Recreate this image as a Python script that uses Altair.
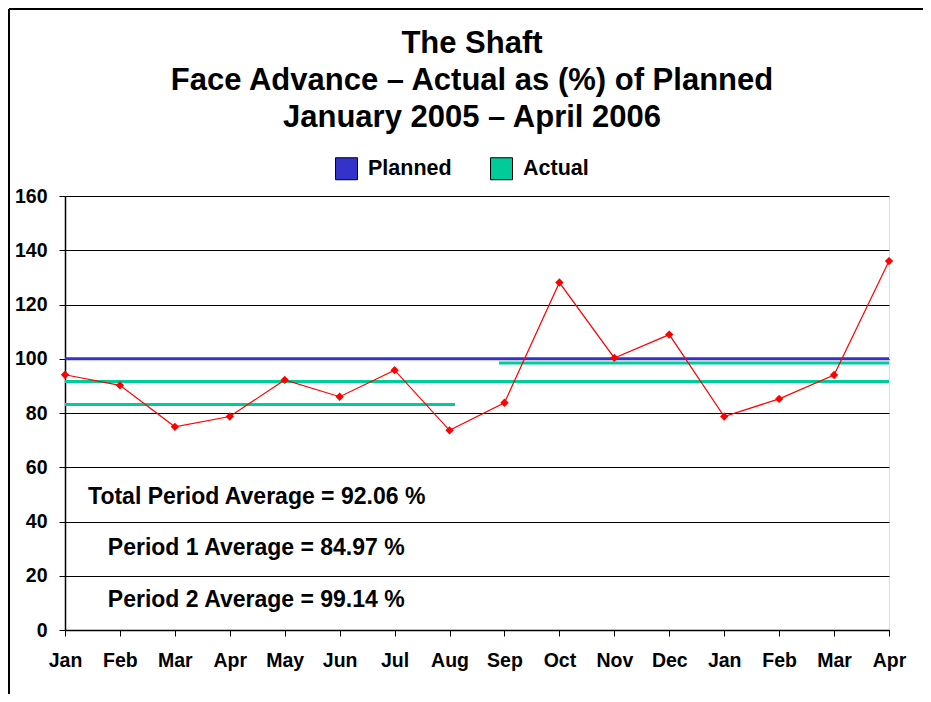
import altair as alt
import pandas as pd

# ---- data ----
months = ["Jan", "Feb", "Mar", "Apr", "May", "Jun", "Jul", "Aug",
          "Sep", "Oct", "Nov", "Dec", "Jan", "Feb", "Mar", "Apr"]
actual_pct = [94.1, 90.2, 74.9, 78.7, 92.2, 86.0, 95.8, 73.6,
              83.8, 128.1, 100.3, 108.9, 78.7, 85.2, 94.0, 136.0]

series = ["Planned", "Actual", "Actual", "Actual"]
seg_start = [0, 0, 0, 7.9]
seg_end = [15, 15, 7.1, 15]
seg_value = [100, 91.6, 83.1, 98.4]

notes = ["Total Period Average = 92.06 %",
         "Period 1 Average = 84.97 %",
         "Period 2 Average = 99.14 %"]
note_x = [0.42, 0.78, 0.78]
note_y = [49.0, 30.2, 11.1]

y_ticks = [0, 20, 40, 60, 80, 100, 120, 140, 160]

# ---- tables ----
line_df = pd.DataFrame({"idx": list(range(len(months))), "month": months, "pct": actual_pct})
seg_df = pd.DataFrame({"series": series, "start": seg_start, "end": seg_end, "value": seg_value})
note_df = pd.DataFrame({"text": notes, "x": note_x, "y": note_y})

FONT = "Liberation Sans"
label_expr = "[" + ",".join(f"'{m}'" for m in months) + "][datum.value]"

x_scale = alt.Scale(domain=[0, len(months) - 1], nice=False, zero=False)
y_scale = alt.Scale(domain=[0, 160], nice=False)

x_axis = alt.Axis(values=list(range(len(months))), labelExpr=label_expr, title=None,
                  grid=False, domainColor="black", domainWidth=1.5, tickColor="black",
                  tickSize=6, labelFontSize=19.5, labelFontWeight="bold", labelFont=FONT,
                  labelColor="black", labelPadding=15, labelFlush=False, labelOverlap=False)
y_axis = alt.Axis(values=y_ticks, title=None, grid=True, gridColor="black", gridOpacity=1,
                  gridWidth=1, domainColor="black", domainWidth=1.5, tickColor="black",
                  tickSize=6, labelFontSize=19.5, labelFontWeight="bold", labelFont=FONT,
                  labelColor="black", labelPadding=12)

legend_domain = ["Planned", "Actual"]
legend_range = ["#3333CC", "#00CC99"]
# same colours, listed in the other order so the line scale keeps its own (hidden) legend
line_domain = ["Actual", "Planned"]
line_range = ["#00CC99", "#3333CC"]

rules = alt.Chart(seg_df).mark_rule(strokeWidth=3).encode(
    x=alt.X("start:Q", scale=x_scale, axis=x_axis),
    x2="end:Q",
    y=alt.Y("value:Q", scale=y_scale, axis=y_axis),
    stroke=alt.Stroke("series:N", scale=alt.Scale(domain=line_domain, range=line_range),
                      legend=None),
)

legend_layer = alt.Chart(seg_df).mark_square(opacity=0, filled=True, size=1).encode(
    x=alt.X("start:Q", scale=x_scale, axis=x_axis),
    y=alt.Y("value:Q", scale=y_scale, axis=y_axis),
    fill=alt.Fill("series:N", scale=alt.Scale(domain=legend_domain, range=legend_range),
                  legend=alt.Legend(orient="none", legendX=270, legendY=-39,
                                    direction="horizontal", title=None,
                                    symbolType="square", symbolSize=484,
                                    symbolStrokeColor="black", symbolStrokeWidth=1,
                                    symbolOpacity=1, labelFontSize=21.5,
                                    labelFontWeight="bold", labelFont=FONT,
                                    labelColor="black", labelOffset=10,
                                    columnPadding=36, padding=0)),
)

line = alt.Chart(line_df).mark_line(color="#FF0000", strokeWidth=1.2).encode(
    x=alt.X("idx:Q", scale=x_scale, axis=x_axis),
    y=alt.Y("pct:Q", scale=y_scale, axis=y_axis),
)
pts = alt.Chart(line_df).mark_point(shape="diamond", filled=True, size=70,
                                    color="#FF0000", opacity=1).encode(
    x=alt.X("idx:Q", scale=x_scale, axis=x_axis),
    y=alt.Y("pct:Q", scale=y_scale, axis=y_axis),
)

text = alt.Chart(note_df).mark_text(align="left", baseline="middle", fontSize=23,
                                    fontWeight="bold", font=FONT, color="black").encode(
    x=alt.X("x:Q", scale=x_scale, axis=x_axis),
    y=alt.Y("y:Q", scale=y_scale, axis=y_axis),
    text="text:N",
)

# outer frame (top and left edges of the picture box)
frame_df = pd.DataFrame({"k": [0]})
frame_top = alt.Chart(frame_df).mark_rule(color="black", strokeWidth=2).encode(
    x=alt.value(-56), x2=alt.value(900), y=alt.value(-187))
frame_left = alt.Chart(frame_df).mark_rule(color="black", strokeWidth=2).encode(
    x=alt.value(-56), y=alt.value(-187), y2=alt.value(498))

chart = alt.layer(rules, legend_layer, line, pts, text, frame_top, frame_left).properties(
    width=824, height=434,
    title=alt.TitleParams(
        text=["The Shaft", "Face Advance \u2013 Actual as (%) of Planned",
              "January 2005 \u2013 April 2006"],
        fontSize=31, fontWeight="bold", font=FONT, color="black", lineHeight=37,
        anchor="middle", offset=-126, dx=-5),
    padding={"left": 57, "top": 188, "right": 34, "bottom": 64},
    autosize=alt.AutoSizeParams(type="none"),
).configure_view(stroke="#808080", strokeWidth=1.5).configure(font=FONT)

chart.save("out.html", embed_options={"renderer": "svg", "actions": False})
